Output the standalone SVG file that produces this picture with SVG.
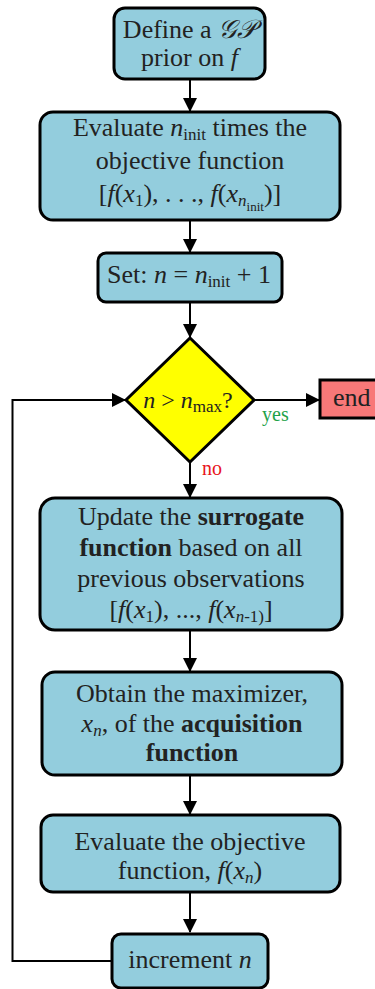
<svg xmlns="http://www.w3.org/2000/svg" width="375" height="989" viewBox="0 0 375 989">
<style>
.box{fill:#93CDDD;stroke:#000;stroke-width:3}
.t{font-family:"Liberation Serif","DejaVu Serif",serif;font-size:26px;fill:#222;text-anchor:middle}
.i{font-style:italic}
.b{font-weight:bold}
.s{font-size:17px}
.c{stroke:#000;stroke-width:2;fill:none}
.lbl{font-family:"Liberation Serif",serif;font-size:20px}
</style>
<defs>
<marker id="ah" markerWidth="14" markerHeight="14" refX="13" refY="7" orient="auto" markerUnits="userSpaceOnUse">
<path d="M0,0 L14,7 L0,14 Z" fill="#000"/>
</marker>
</defs>
<g id="connectors">
<line class="c" x1="190" y1="80" x2="190" y2="111" marker-end="url(#ah)"/>
<line class="c" x1="190" y1="220" x2="190" y2="252" marker-end="url(#ah)"/>
<line class="c" x1="190" y1="302" x2="190" y2="337" marker-end="url(#ah)"/>
<line class="c" x1="255" y1="400" x2="319" y2="400" marker-end="url(#ah)"/>
<line class="c" x1="190" y1="462" x2="190" y2="497" marker-end="url(#ah)"/>
<line class="c" x1="190" y1="630" x2="190" y2="671" marker-end="url(#ah)"/>
<line class="c" x1="190" y1="775" x2="190" y2="814" marker-end="url(#ah)"/>
<line class="c" x1="190" y1="892" x2="190" y2="932" marker-end="url(#ah)"/>
<polyline class="c" points="112,961 12.5,961 12.5,400 125,400" marker-end="url(#ah)"/>
<text class="lbl" x="262" y="421" fill="#1FA24A">yes</text>
<text class="lbl" x="202" y="475" fill="#E8141C">no</text>
</g>
<g id="n1">
<rect class="box" x="114" y="8" width="151" height="71" rx="11"/>
<text class="t" x="189.5" y="38">Define a <tspan font-family="DejaVu Sans, serif" class="i">𝒢𝒫</tspan></text>
<text class="t" x="189.5" y="66">prior on <tspan class="i">f</tspan></text>
</g>
<g id="n2">
<rect class="box" x="40" y="112" width="300" height="108" rx="13"/>
<text class="t" x="190" y="136">Evaluate <tspan class="i">n</tspan><tspan class="s" dy="4">init</tspan><tspan dy="-4"> times the</tspan></text>
<text class="t" x="190" y="169">objective function</text>
<text class="t" x="190" y="202">[<tspan class="i">f</tspan>(<tspan class="i">x</tspan><tspan class="s" dy="4">1</tspan><tspan dy="-4">), . . ., </tspan><tspan class="i">f</tspan>(<tspan class="i">x</tspan><tspan class="s i" dy="4">n</tspan><tspan class="s" style="font-size:13px" dy="5">init</tspan><tspan dy="-9">)]</tspan></text>
</g>
<g id="n3">
<rect class="box" x="98" y="253" width="184" height="49" rx="8"/>
<text class="t" x="189" y="283">Set: <tspan class="i">n</tspan> = <tspan class="i">n</tspan><tspan class="s" dy="4">init</tspan><tspan dy="-4"> + 1</tspan></text>
</g>
<g id="n4">
<polygon points="190,338 254,400 190,462 126,400" fill="#FFFF00" stroke="#000" stroke-width="3"/>
<text class="t" x="188" y="408" style="font-size:24px"><tspan class="i">n</tspan> &gt; <tspan class="i">n</tspan><tspan class="s" dy="4">max</tspan><tspan dy="-4">?</tspan></text>
</g>
<g id="n5">
<rect x="320" y="380" width="60" height="38" fill="#F87878" stroke="#000" stroke-width="3"/>
<text class="t" x="333" y="406" style="text-anchor:start">end</text>
</g>
<g id="n6">
<rect class="box" x="40" y="498" width="302" height="132" rx="15"/>
<text class="t" x="191" y="525">Update the <tspan class="b">surrogate</tspan></text>
<text class="t" x="191" y="556"><tspan class="b">function</tspan> based on all</text>
<text class="t" x="191" y="587">previous observations</text>
<text class="t" x="191" y="618">[<tspan class="i">f</tspan>(<tspan class="i">x</tspan><tspan class="s" dy="4">1</tspan><tspan dy="-4">), ..., </tspan><tspan class="i">f</tspan>(<tspan class="i">x</tspan><tspan class="s" dy="4"><tspan class="i">n</tspan>-1)</tspan><tspan dy="-4">]</tspan></text>
</g>
<g id="n7">
<rect class="box" x="42" y="672" width="300" height="103" rx="13"/>
<text class="t" x="192" y="702">Obtain the maximizer,</text>
<text class="t" x="192" y="732"><tspan class="i">x</tspan><tspan class="s i" dy="4">n</tspan><tspan dy="-4">, of the </tspan><tspan class="b">acquisition</tspan></text>
<text class="t" x="192" y="761" font-weight="bold">function</text>
</g>
<g id="n8">
<rect class="box" x="41" y="815" width="299" height="77" rx="12"/>
<text class="t" x="190" y="850">Evaluate the objective</text>
<text class="t" x="190" y="879">function, <tspan class="i">f</tspan>(<tspan class="i">x</tspan><tspan class="s i" dy="4">n</tspan><tspan dy="-4">)</tspan></text>
</g>
<g id="n9">
<rect class="box" x="112" y="934" width="156" height="54" rx="9"/>
<text class="t" x="190" y="968">increment <tspan class="i">n</tspan></text>
</g>
</svg>
